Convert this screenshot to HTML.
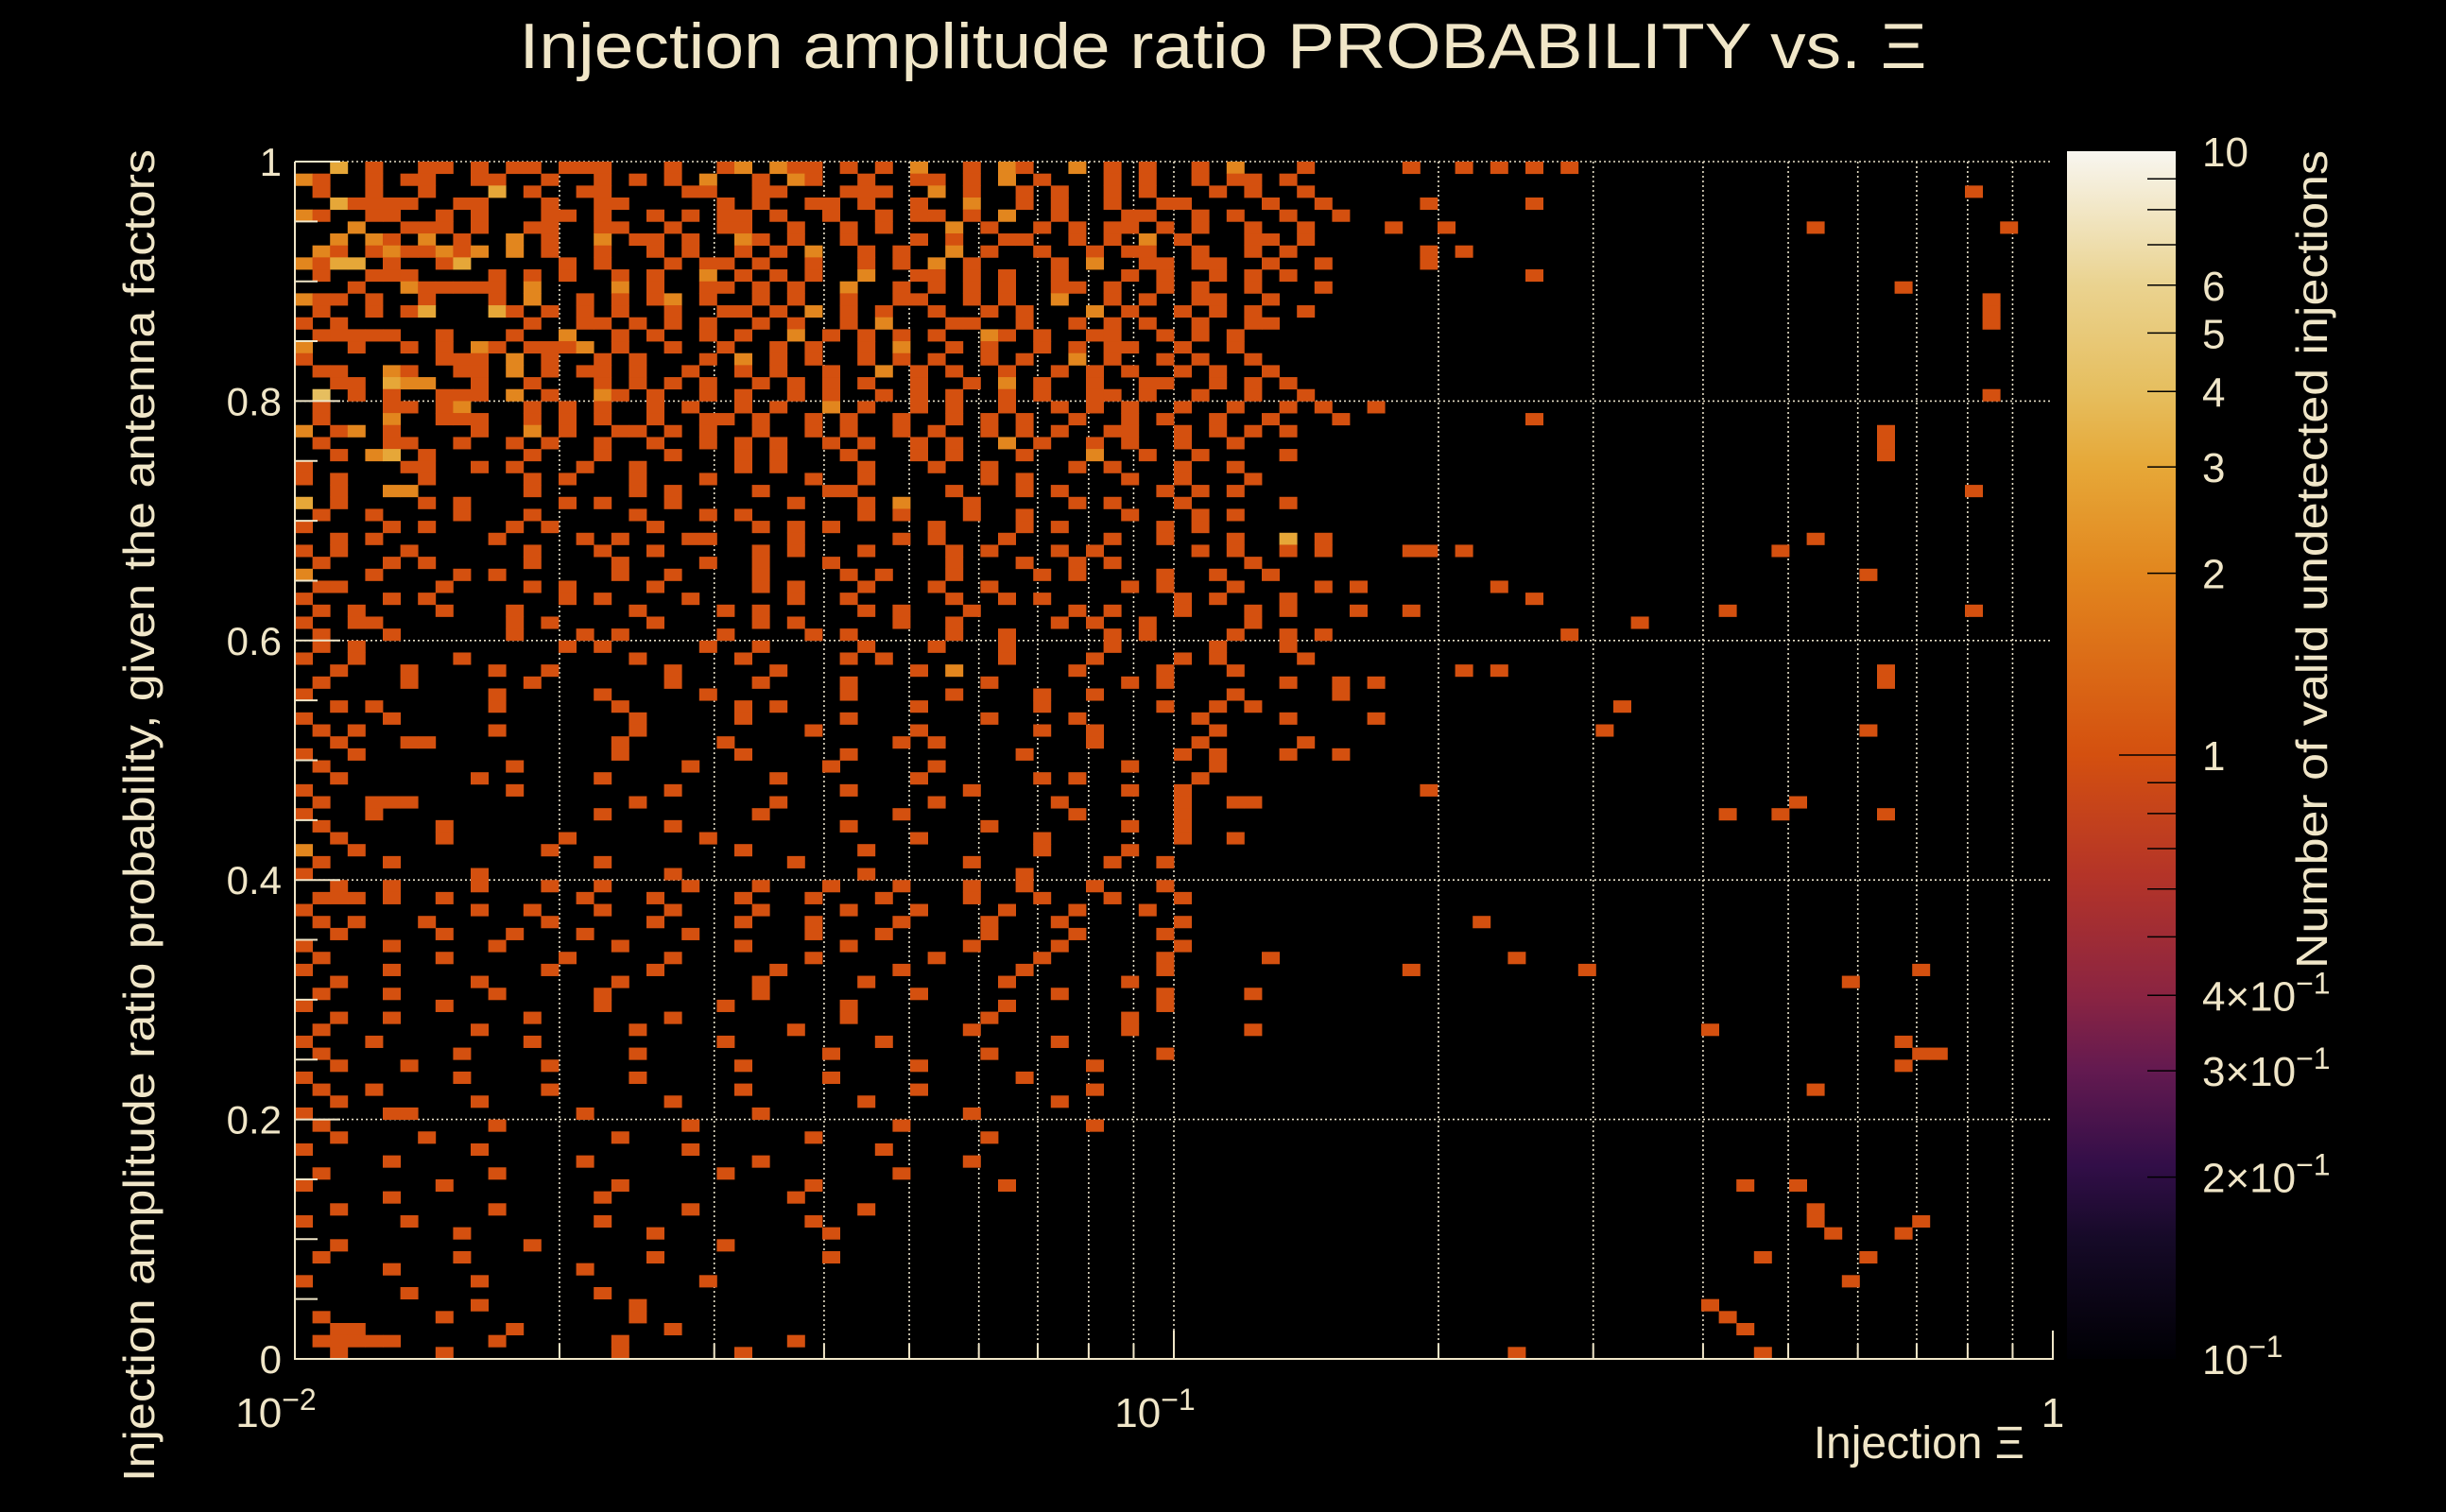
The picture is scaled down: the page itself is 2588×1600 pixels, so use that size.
<!DOCTYPE html>
<html><head><meta charset="utf-8"><style>
html,body{margin:0;padding:0;background:#000;}
svg{display:block;font-family:"Liberation Sans",sans-serif;}
</style></head><body>
<svg id="chart" width="2588" height="1600" viewBox="0 0 2588 1600" xmlns="http://www.w3.org/2000/svg">
<rect width="2588" height="1600" fill="#000"/>
<text x="1294" y="72" font-size="68" fill="#f0e6c8" text-anchor="middle" textLength="1489" lengthAdjust="spacingAndGlyphs">Injection amplitude ratio PROBABILITY vs.  Ξ</text>
<g id="grid"></g>
<g id="cells"></g>
<g id="axes"></g>
<g id="cbar"></g>
<text transform="translate(163,1568) rotate(-90)" font-size="46" fill="#f0e6c8" textLength="1410" lengthAdjust="spacingAndGlyphs">Injection amplitude ratio probability, given the antenna factors</text>
<text x="2142" y="1543" font-size="48" fill="#f0e6c8" text-anchor="end">Injection Ξ</text>
<text transform="translate(2462,1025) rotate(-90)" font-size="46" fill="#f0e6c8" textLength="866" lengthAdjust="spacingAndGlyphs">Number of valid undetected injections</text>
</svg>
<script>
const xMin = 0.01, xMax = 1, nXBins = 100, nYBins = 100;
const yTickValues = [0, 0.2, 0.4, 0.6, 0.8, 1];
const yTickLabels = ["0", "0.2", "0.4", "0.6", "0.8", "1"];
const cbarTickValues = [10, 6, 5, 4, 3, 2, 1, 0.4, 0.3, 0.2, 0.1];
const cbarTickMain = ["10", "6", "5", "4", "3", "2", "1", "4×10", "3×10", "2×10", "10"];
const cbarTickExp = ["", "", "", "", "", "", "", "−1", "−1", "−1", "−1"];
const denseRows = [
"..3.1..11.1.11.111...1..12.211.1.1.2..1.21..2.1.1..1.2...1.....1....1.1",
"21..1.11..11..1..1.1.1.2..1.21..1..11.1.2.1...1.1..1.11.1",
".1..1..1...3.1..11....11..11...111..2.1..1.1..1.1...1.1..1",
"..31111..11...1..11.....1.1..11.1..1..2..1.1..1..11....1..1.....1",
"21..11..1.1...11.1..1.1.11.1..1..1.11.1.2..1...11..1.1..1..1",
"...2..111.1..11..11..1..11..1..1.1...2.1..1.1.11.1.1..1..1....1..1",
"..2.21.2.1..2.1..2.11.1..21.1..1...1.1..11..1.1.2.1...11.1",
".21.1211212.2.1..1..1.1..1.1.2..1.1..2.1..1..1.11..1..1.1",
"2133.1..13.....1.1...1.11.1..1..1.1.2.1....1.2..11.11..1..1.....1",
".1..111....1.1.1..1.1..2.1.1.1..2..11.1.1..1...1.1..1.1.1",
"...1..211111.2....2.1..11.1.1..2..1.1.1.1..11.1..1.1..1...1",
"211.1..1...1.2..1.1.12.1..1.1..1..11..1.1..2..1.1..11..1",
".1..1.13...31.1.1.1..1..11.1.2.1.1..1..1.1...2.1..1.1.1..1",
"1.1..........1..11.1.1.1..1.1..1.2...11..1..1.1.1..1..11",
".11111..1...1..2..1.1..1.1..2.1.1.1.1..21.1..11..1.1.1",
"2..1..1.1.21.1112.1..1..1..1.1..1.2..1.1..1.1.11..1..1",
"1.......111.2.1..1.1...1.2.1.1..1.1.1..1.1..2.1..1.1..1",
".11..21..11.2.1.11.1..1..1.1..1..2.1.1..1..1.1.1..1.1..1",
"..11.322..1..1...1.1.1.1..1.1.1.1..1..1.2.1..1..11..1.1.1",
".4.1.1..111.2.1..21.1..1.1..1.1..1.1.1..1.1..11.1..1..1..1",
".1...11.12...1.1.1..1.1..1.1..2.1..1.1..1..1.1.1..1..1..1.1..1",
".1...2..111..1.1.1..1..11.1..1.1..1..1.1.1..1..1.1..1..1...1",
"2.12.1....1..2.1..11.1.1..1..1.1..1.1..1.1.1..11..1.1.1.1",
".1...11..1..1.1..1..1..1.1.1..1.1..1.1..2.1..1.1..1..1",
"..1.23.1.....1...1...1...1.1...1...1.1...1...2..1..1....1",
"1.....11..1.1...1..1.....1.1....1...1..1....1.1...1..1",
"1.1....1.....1.1...1...1.....1..1......1.1.....1..1...1",
"..1..22......1.....1.1....1...11.....1...1.1.....1.1.1",
"3.1....1.1.....1.1...1......1...1.2...1.....1.1...1.....1",
".1..1....1...1.....1...1.1......1.1...1..1.....1...1.1",
"1....1.1....1.1.....1.....1.1.1.....1....1.1.....1.1",
"..1.1......1....1.1...11....1.....1.1...1.....1..1...1..3.1",
"1.1...1......1...1..1.....1.1...1....1.1...1.1.....1.1..1.1....11",
".1...1.1.....1....1....1..1...1......1...1..1.1.......1",
"2...1....1.1......1..1....1....1.1...1....1.1....1..1..1",
".11.....1....1.1....1.....1.1...1...1..1.......1.1...1....1.1",
"1....1.1.......1.1....1.....1..1.....1..1.1.......1.1...1",
".1.1....1...1......1....1.1.....1.1...1.....1.1...1...1.1...1..1",
"1..11.......1.1.....1.....1.1.....1..1.....1.1..1.....1",
".1...1......1...1.1.....1....1.1.....1..1.....1.1....1..1.1",
".1.1...........1.1.....1..1.....1...1...1.....1.....1...1",
"1..1.....1.........1.....1.....1.1......1....1....1.1....1",
"..1...1....1..1......1.....1.......1.2......1....1...1",
".1....1......1.......1....1....1.......1.......1.1......1..1.1",
"1..........1.....1.....1.......1.....1....1..1.......1",
"..1.1......1......1......1.1.......1......1......1..1.1",
"1....1.............1.....1.....1.......1....1......1....1....1",
".1.1.......1.......1.........1.....1......1..1......1",
"..1...11..........1.....1.........1.1........1.....1.....1",
"1..1..............1......1.....1.........1........1.1...1..1",
".1..........1.........1.......1.....1..........1....1",
"..1.......1......1.........1.......1......1.1......1",
"1...........1........1.........1......1........1..1",
".1..111............1.......1........1......1......1..11",
"1...1............1........1.......1.........1.....1",
".1......1............1.........1.......1.......1..1",
"..1.....1......1.......1...........1......1.......1..1",
"2..1..........1..........1......1.........1....1",
".1...1...........1..........1.........1.......1..1",
"1.........1..........1..........1........1",
"..1..1....1...1..1....1...1...1...1...1..1...1...1",
".111.1..1.......1...1....1...1...1....1...1...1...1",
"1.........1..1...1...1....1....1...1....1...1...1",
".1.1...1......1.....1....1...1....1....1...1......1",
"..1.....1...1...1.....1......1...1.....1....1....1",
"1....1.....1......1......1.....1......1....1......1",
".1......1......1.....1.......1......1.....1......1.....1",
"1....1........1.....1......1......1......1.......1",
"..1.......1.......1.......1.....1.......1......1",
".1...1.....1.....1........1........1.......1.....1....1",
"1.......1........1......1......1........1........1",
"..1..1.......1.......1.........1.......1.......1",
".1........1........1........1.........1........1......1",
"1...1........1..........1........1.........1",
".1.......1.........1..........1........1.........1",
"..1...1.......1..........1.........1.........1",
"1........1.........1..........1..........1",
".1..1.........1..........1.........1.........1",
"..1.......1..........1..........1..........1",
"1....11.........1.........1...........1",
".1.........1..........1...........1..........1",
"..1....1..........1..........1.........1",
"1.........1...........1..........1",
".....1..........1.........1...........1",
".1.........1............1.........1",
"1.......1.........1..........1..........1",
".....1...........1..........1",
"..1........1..........1.........1",
"1.....1..........1...........1",
".........1..........1.........1",
"..1..........1..........1",
".1.......1..........1.........1",
".....1..........1",
"1.........1............1",
"......1..........1",
"..........1........1",
".1......1..........1",
"..11........1........1",
".11111.....1......1.........1",
"..1.....1.........1......1"
];
const sparseCols = [66,70,72,70,95,86,97,64,66,70,91,96,96,96,96,70,90,90,90,95,84,86,66,68,70,89,81,95,76,72,66,68,90,90,59,75,74,89,64,81,84,85,90,67,69,73,63,88,92,80,91,92,93,91,86,82,85,86,86,92,87,91,89,83,88,80,81,82,83,69];
const sparseRows = [0,0,0,3,2,5,5,7,7,9,10,11,12,13,19,21,22,23,24,27,32,31,32,35,36,34,37,37,38,39,42,42,42,43,44,45,47,47,52,54,54,53,54,63,66,67,67,68,67,72,73,74,74,75,77,85,85,87,88,88,89,89,91,91,93,95,96,97,99,99];
const sparseCounts = [1,1,1,1,1,1,1,1,1,1,1,1,1,1,1,1,1,1,1,1,1,1,1,1,1,1,1,1,1,1,1,1,1,1,1,1,1,1,1,1,1,1,1,1,1,1,1,1,1,1,1,1,1,1,1,1,1,1,1,1,1,1,1,1,1,1,1,1,1,1];

const NS = "http://www.w3.org/2000/svg";
const PL = 312, PR = 2172, PT = 171, PB = 1438;
const CX0 = 2187, CX1 = 2302, CT = 160, CB = 1438;
const fg = "#f0e6c8";
function xScale(v){ return PL + (Math.log10(v) - Math.log10(xMin)) / (Math.log10(xMax) - Math.log10(xMin)) * (PR - PL); }
function yScale(v){ return PB - v * (PB - PT); }
function cScale(v){ return CB - (Math.log10(v) + 1) / 2 * (CB - CT); }
const stops = [[0,[0,0,4]],[0.1,[22,10,40]],[0.16,[50,14,72]],[0.24,[100,26,80]],[0.3,[138,36,66]],[0.4,[180,52,40]],[0.5,[212,80,15]],[0.65,[226,134,30]],[0.74,[230,168,56]],[0.8,[230,190,94]],[0.89,[234,211,144]],[1,[248,246,240]]];
function cmap(v){
  let t = (Math.log10(v) + 1) / 2; t = Math.max(0, Math.min(1, t));
  for (let i = 1; i < stops.length; i++){
    if (t <= stops[i][0]){
      const a = stops[i-1], b = stops[i], f = (t - a[0]) / (b[0] - a[0]);
      const c = a[1].map((x, k) => Math.round(x + (b[1][k] - x) * f));
      return "rgb(" + c.join(",") + ")";
    }
  }
  return "rgb(248,246,240)";
}
function mk(tag, attrs, parent){
  const e = document.createElementNS(NS, tag);
  for (const k in attrs) e.setAttribute(k, attrs[k]);
  parent.appendChild(e); return e;
}
const grid = document.getElementById("grid"), cellsG = document.getElementById("cells"), axes = document.getElementById("axes"), cbar = document.getElementById("cbar");
const lx = Math.log10(xMin), hx = Math.log10(xMax);
function drawCell(col, row, count){
  const x0 = xScale(Math.pow(10, lx + col * (hx - lx) / nXBins));
  const x1 = xScale(Math.pow(10, lx + (col + 1) * (hx - lx) / nXBins));
  const y1 = yScale(1 - row / nYBins), y0 = yScale(1 - (row + 1) / nYBins);
  const r = mk("rect", {x: x0.toFixed(2), y: y1.toFixed(2), width: (x1 - x0 + 0.4).toFixed(2), height: (y0 - y1 + 0.4).toFixed(2), fill: cmap(count)}, cellsG);
  
  
}
denseRows.forEach((s, row) => { for (let c = 0; c < s.length; c++){ const ch = s[c]; if (ch !== '.') drawCell(c, row, parseInt(ch)); } });
sparseCols.forEach((c, i) => drawCell(c, sparseRows[i], sparseCounts[i]));

const xGridVals = [0.02,0.03,0.04,0.05,0.06,0.07,0.08,0.09,0.1,0.2,0.3,0.4,0.5,0.6,0.7,0.8,0.9];
xGridVals.forEach(v => {
  const l = mk("line", {x1: xScale(v), x2: xScale(v), y1: PT, y2: PB, stroke: "#e8e0c8", "stroke-width": 1.6, "stroke-dasharray": "2,3"}, grid);
  
  
  const t = mk("line", {x1: xScale(v), x2: xScale(v), y1: PB, y2: PB - (v === 0.1 ? 30 : 16), stroke: fg, "stroke-width": 2}, axes);
  
  
});
yTickValues.forEach((v, i) => {
  if (v > 0){
    const l = mk("line", {x1: PL, x2: PR, y1: yScale(v), y2: yScale(v), stroke: "#e8e0c8", "stroke-width": 1.6, "stroke-dasharray": "2,3"}, grid);
    
    
  }
  const t = mk("text", {x: 298, y: yScale(v) + 15, "font-size": 42, fill: fg, "text-anchor": "end"}, axes);
  t.textContent = yTickLabels[i];
  
  
});
for (let k = 0; k <= 20; k++){
  const v = k * 0.05;
  const t = mk("line", {x1: PL, x2: PL + (k % 4 === 0 ? 48 : 24), y1: yScale(v), y2: yScale(v), stroke: fg, "stroke-width": 2}, axes);
  
  
}
const frame = mk("path", {d: `M${PL},${PT} L${PL},${PB} L${PR},${PB} L${PR},${PB-30}`, fill: "none", stroke: fg, "stroke-width": 2}, axes);


const xLabs = [[0.01, "10", "−2"], [0.1, "10", "−1"], [1, "1", ""]];
xLabs.forEach(a => {
  const t = mk("text", {x: xScale(a[0]) + (a[0] === 1 ? 0 : -20), y: 1510, "font-size": 44, fill: fg, "text-anchor": "middle"}, axes);
  t.textContent = a[1];
  if (a[2]){ const s = mk("tspan", {"font-size": 32, dy: -18}, t); s.textContent = a[2]; }
  
  
});
const defs = mk("defs", {}, document.getElementById("chart"));
const grad = mk("linearGradient", {id: "cg", x1: 0, y1: 1, x2: 0, y2: 0}, defs);
stops.forEach(s => mk("stop", {offset: s[0], "stop-color": "rgb(" + s[1].join(",") + ")"}, grad));
const cb = mk("rect", {x: CX0, y: CT, width: CX1 - CX0, height: CB - CT, fill: "url(#cg)"}, cbar);


[0.2,0.3,0.4,0.5,0.6,0.7,0.8,0.9,1,2,3,4,5,6,7,8,9].forEach(v => {
  const l = mk("line", {x1: v === 1 ? CX0 + 55 : CX1 - 30, x2: CX1, y1: cScale(v), y2: cScale(v), stroke: "#000", "stroke-width": 1.5}, cbar);
  
  
});
cbarTickValues.forEach((v, i) => {
  const t = mk("text", {x: 2330, y: cScale(v) + 16, "font-size": 44, fill: fg}, cbar);
  t.textContent = cbarTickMain[i];
  if (cbarTickExp[i]){ const s = mk("tspan", {"font-size": 32, dy: -18}, t); s.textContent = cbarTickExp[i]; }
  
  
});
</script>
</body></html>
